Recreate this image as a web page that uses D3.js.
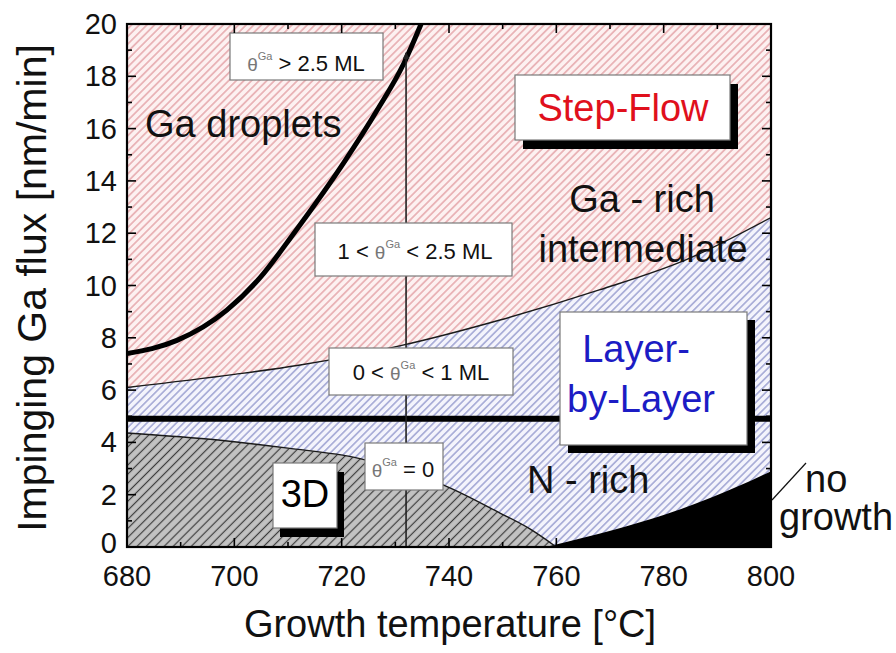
<!DOCTYPE html>
<html><head><meta charset="utf-8">
<script src="https://cdn.jsdelivr.net/npm/d3@7"></script>
<style>body{margin:0;background:#fff} text{font-family:"Liberation Sans",Arial,Helvetica,sans-serif}</style>
</head><body><svg id="c" width="896" height="653"></svg>
<script>
// ---- data ----
const xTicks = [680, 700, 720, 740, 760, 780, 800];
const xMinorTicks = [690, 710, 730, 750, 770, 790];
const yTicks = [0, 2, 4, 6, 8, 10, 12, 14, 16, 18, 20];
const yMinorTicks = [1, 3, 5, 7, 9, 11, 13, 15, 17, 19];
// boundary between Ga-rich intermediate (above) and N-rich / layer-by-layer (below)
const boundaryCurve = [[680, 6.1], [700, 6.6], [712, 6.95], [731, 7.7], [749.5, 8.68], [768, 9.83], [784, 10.97], [800, 12.6]];
// Ga droplets limit (thick)
const dropletCurve = [[680, 7.4], [689.3, 7.9], [698.6, 9.06], [704.8, 10.3], [711.1, 12.0], [720.4, 14.7], [726.6, 16.7], [731.6, 18.5], [734.8, 20]];
// 3D growth region upper limit
const threeDCurve = [[680, 4.36], [697, 4.09], [710, 3.78], [723, 3.4], [731, 2.95], [739, 2.37], [749.5, 1.3], [755, 0.7], [760, 0]];
// no growth region upper limit
const noGrowthCurve = [[758, 0], [765, 0.35], [770.6, 0.65], [780, 1.22], [789, 1.9], [798.5, 2.75], [800, 2.9]];
const stoichFlux = 4.9;           // thick horizontal line
const arrowTemp = 732;            // vertical arrow
const arrowRange = [0, 18.9];

// ---- layout ----
const svg = d3.select('#c');
const x = d3.scaleLinear().domain([680, 800]).range([127, 771]);
const y = d3.scaleLinear().domain([0, 20]).range([547, 24]);
const X0 = x(680), X1 = x(800), Y0 = y(0), Y1 = y(20);

const defs = svg.append('defs');
function hatch(id, bg, fg, sz, sw) {
  const p = defs.append('pattern').attr('id', id).attr('patternUnits', 'userSpaceOnUse')
    .attr('width', sz).attr('height', sz).attr('patternTransform', 'rotate(45)');
  p.append('rect').attr('width', sz).attr('height', sz).attr('fill', bg);
  p.append('line').attr('x1', sz / 2).attr('y1', -1).attr('x2', sz / 2).attr('y2', sz + 1)
    .attr('stroke', fg).attr('stroke-width', sw);
}
hatch('hPink', '#fdf1f1', '#e29ca1', 5.4, 1.3);
hatch('hBlue', '#f4f4fc', '#8a90c8', 5.2, 1.2);
hatch('hGray', '#c2c2c2', '#3c3c3c', 6.4, 1.2);
defs.append('clipPath').attr('id', 'plotClip').append('rect')
  .attr('x', X0).attr('y', Y1).attr('width', X1 - X0).attr('height', Y0 - Y1);
const mk = defs.append('marker').attr('id', 'arr').attr('viewBox', '0 0 10 10')
  .attr('refX', 9).attr('refY', 5).attr('markerWidth', 7).attr('markerHeight', 7)
  .attr('markerUnits', 'userSpaceOnUse').attr('orient', 'auto');
mk.append('path').attr('d', 'M0,0L10,5L0,10Z').attr('fill', '#222');

const g = svg.append('g').attr('clip-path', 'url(#plotClip)');
const curve = d3.curveMonotoneX;
const area = d3.area().x(d => x(d[0])).y0(Y0).y1(d => y(d[1])).curve(curve);
const line = d3.line().x(d => x(d[0])).y(d => y(d[1])).curve(curve);

g.append('rect').attr('x', X0).attr('y', Y1).attr('width', X1 - X0).attr('height', Y0 - Y1).attr('fill', 'url(#hPink)');
g.append('path').attr('d', area(boundaryCurve)).attr('fill', 'url(#hBlue)');
g.append('path').attr('d', area(threeDCurve)).attr('fill', 'url(#hGray)');
g.append('path').attr('d', area(noGrowthCurve)).attr('fill', '#000');
g.append('path').attr('d', line(boundaryCurve)).attr('fill', 'none').attr('stroke', '#1a1a1a').attr('stroke-width', 1.4);
g.append('path').attr('d', line(threeDCurve)).attr('fill', 'none').attr('stroke', '#1a1a1a').attr('stroke-width', 1.4);
g.append('line').attr('x1', X0).attr('x2', X1).attr('y1', y(stoichFlux)).attr('y2', y(stoichFlux))
  .attr('stroke', '#000').attr('stroke-width', 6);
g.append('path').attr('d', line(dropletCurve)).attr('fill', 'none').attr('stroke', '#000').attr('stroke-width', 5);
g.append('line').attr('x1', x(arrowTemp)).attr('x2', x(arrowTemp)).attr('y1', y(arrowRange[0])).attr('y2', y(arrowRange[1]))
  .attr('stroke', '#222').attr('stroke-width', 1.6).attr('marker-end', 'url(#arr)');

// ---- annotation boxes ----
const ann = svg.append('g');
function box(x0, y0, x1, y1, shadow) {
  if (shadow) ann.append('rect').attr('x', x0 + shadow[0]).attr('y', y0 + shadow[1])
    .attr('width', x1 - x0).attr('height', y1 - y0).attr('fill', '#000');
  ann.append('rect').attr('x', x0).attr('y', y0).attr('width', x1 - x0).attr('height', y1 - y0)
    .attr('fill', '#fff').attr('stroke', '#7a7a7a').attr('stroke-width', 1.2);
}
function thetaText(cx, base, pre, post) {
  const t = ann.append('text').attr('x', cx).attr('y', base).attr('text-anchor', 'middle')
    .attr('font-size', 22).attr('fill', '#111');
  if (pre) t.append('tspan').text(pre);
  t.append('tspan').attr('fill', '#777').attr('font-size', 19).text('θ');
  t.append('tspan').attr('fill', '#777').attr('font-size', 11).attr('dy', -11).text('Ga');
  t.append('tspan').attr('dy', 11).text(post);
}
box(230, 33, 383, 80);
thetaText(306, 71, '', ' > 2.5 ML');
box(315, 223, 512, 276);
thetaText(415, 259, '1 < ', ' < 2.5 ML');
box(329, 348, 513, 395);
thetaText(421, 380, '0 < ', ' < 1 ML');
box(365, 443, 443, 490);
thetaText(403, 477, '', ' = 0');

box(515, 75, 730, 140, [8, 9]);
ann.append('text').attr('x', 623).attr('y', 121).attr('text-anchor', 'middle')
  .attr('font-size', 38).attr('fill', '#e0101c').text('Step-Flow');
box(560, 312, 747, 445, [8, 8]);
ann.append('text').attr('x', 636).attr('y', 362).attr('text-anchor', 'middle')
  .attr('font-size', 38).attr('fill', '#1c1cc4').text('Layer-');
ann.append('text').attr('x', 641).attr('y', 412).attr('text-anchor', 'middle')
  .attr('font-size', 38).attr('fill', '#1c1cc4').text('by-Layer');
box(273, 463, 337, 528, [7, 9]);
ann.append('text').attr('x', 305).attr('y', 507).attr('text-anchor', 'middle')
  .attr('font-size', 38).attr('fill', '#000').text('3D');

const lbl = (t, xx, yy, anchor) => ann.append('text').attr('x', xx).attr('y', yy)
  .attr('text-anchor', anchor || 'start').attr('font-size', 38).attr('fill', '#111').text(t);
lbl('Ga droplets', 145, 137);
lbl('Ga - rich', 642, 212, 'middle');
lbl('intermediate', 643, 262, 'middle');
lbl('N - rich', 527, 493);
lbl('no', 805, 492);
lbl('growth', 779, 530);
ann.append('line').attr('x1', 772).attr('y1', 500).attr('x2', 806).attr('y2', 463)
  .attr('stroke', '#111').attr('stroke-width', 1.2);

// ---- axes ----
const ax = svg.append('g');
const axT = ax.append('g').attr('stroke', '#000').attr('stroke-width', 1.6);
xTicks.forEach(v => {
  axT.append('line').attr('x1', x(v)).attr('x2', x(v)).attr('y1', Y0).attr('y2', Y0 - 9);
  axT.append('line').attr('x1', x(v)).attr('x2', x(v)).attr('y1', Y1).attr('y2', Y1 + 9);
});
xMinorTicks.forEach(v => {
  axT.append('line').attr('x1', x(v)).attr('x2', x(v)).attr('y1', Y0).attr('y2', Y0 - 5);
  axT.append('line').attr('x1', x(v)).attr('x2', x(v)).attr('y1', Y1).attr('y2', Y1 + 5);
});
yTicks.forEach(v => {
  axT.append('line').attr('y1', y(v)).attr('y2', y(v)).attr('x1', X0).attr('x2', X0 + 9);
  axT.append('line').attr('y1', y(v)).attr('y2', y(v)).attr('x1', X1).attr('x2', X1 - 9);
});
yMinorTicks.forEach(v => {
  axT.append('line').attr('y1', y(v)).attr('y2', y(v)).attr('x1', X0).attr('x2', X0 + 5);
  axT.append('line').attr('y1', y(v)).attr('y2', y(v)).attr('x1', X1).attr('x2', X1 - 5);
});
ax.append('rect').attr('x', X0).attr('y', Y1).attr('width', X1 - X0).attr('height', Y0 - Y1)
  .attr('fill', 'none').attr('stroke', '#000').attr('stroke-width', 2.2);

ax.selectAll('.xl').data(xTicks).enter().append('text')
  .attr('x', d => x(d)).attr('y', 586).attr('text-anchor', 'middle')
  .attr('font-size', 29).attr('fill', '#111').text(d => d);
ax.selectAll('.yl').data(yTicks).enter().append('text')
  .attr('x', 117).attr('y', d => y(d) + (d === 0 ? 6 : 10)).attr('text-anchor', 'end')
  .attr('font-size', 29).attr('fill', '#111').text(d => d);

ax.append('text').attr('x', 450).attr('y', 637).attr('text-anchor', 'middle')
  .attr('font-size', 38).attr('fill', '#111').text('Growth temperature [°C]');
ax.append('text').attr('transform', 'translate(46,288) rotate(-90)').attr('text-anchor', 'middle')
  .attr('font-size', 41).attr('fill', '#111').text('Impinging Ga flux [nm/min]');
</script></body></html>
